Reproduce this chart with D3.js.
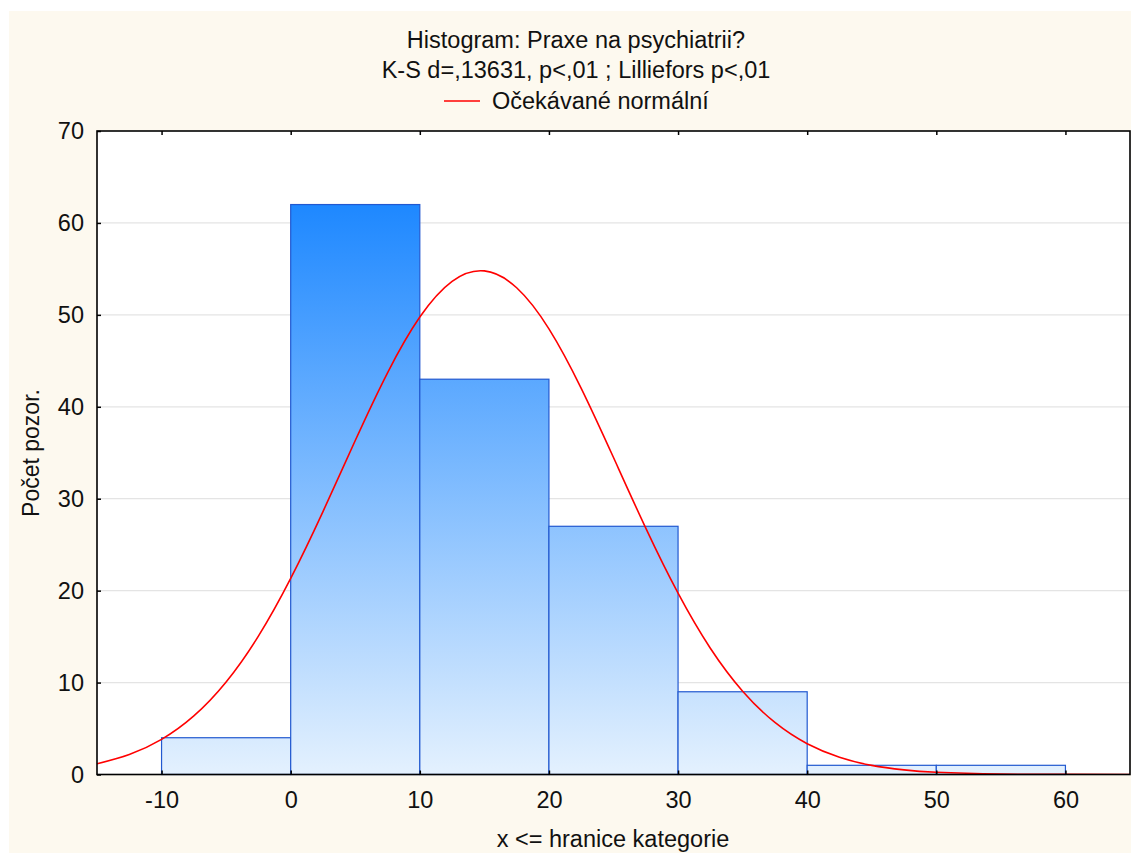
<!DOCTYPE html>
<html>
<head>
<meta charset="utf-8">
<script src="https://cdn.jsdelivr.net/npm/d3@7"></script>
<style>
html,body{margin:0;padding:0;background:#fff;}
svg{display:block;font-family:"Liberation Sans",Arial,sans-serif;}
</style>
</head>
<body>
<svg id="chart" width="1131" height="856"></svg>
<script>
// ---- data ----
const binStarts = [-10, 0, 10, 20, 30, 40, 50];
const binEnds   = [0, 10, 20, 30, 40, 50, 60];
const counts    = [4, 62, 43, 27, 9, 1, 1];
const curveX = [-15,-12.5,-10,-7.5,-5,-2.5,0,2.5,5,7.5,10,12.5,15,17.5,20,22.5,25,27.5,30,32.5,35,37.5,40,42.5,45,47.5,50,55,60,65];
const curveY = [1.16,2.17,3.82,6.37,10.06,15.05,21.33,28.6,36.33,43.7,49.76,53.65,54.78,52.95,48.48,42.01,34.48,26.8,19.72,13.73,9.06,5.66,3.35,1.88,0.99,0.5,0.24,0.05,0.01,0];
const xTicks = [-10, 0, 10, 20, 30, 40, 50, 60];
const yTicks = [0, 10, 20, 30, 40, 50, 60, 70];
const titleLines = ["Histogram: Praxe na psychiatrii?", "K-S d=,13631, p<,01 ; Lilliefors p<,01"];
const legendLabel = "Očekávané normální";
const xTitle = "x <= hranice kategorie";
const yTitle = "Počet pozor.";

// ---- layout ----
const svg = d3.select("#chart");
const L = 97, R = 1130, T = 131, B = 774.5;
const x = d3.scaleLinear().domain([-15, 65]).range([L, R]);
const y = d3.scaleLinear().domain([0, 70]).range([B, T]);
const FS = 23.5;

svg.append("rect").attr("x", 9).attr("y", 11).attr("width", 1122).attr("height", 842).attr("fill", "#fdf9ef");
svg.append("rect").attr("x", L).attr("y", T).attr("width", R - L).attr("height", B - T).attr("fill", "#fff");

const defs = svg.append("defs");
const grad = defs.append("linearGradient").attr("id", "barGrad")
  .attr("gradientUnits", "userSpaceOnUse")
  .attr("x1", 0).attr("x2", 0).attr("y1", y(62)).attr("y2", y(0));
grad.append("stop").attr("offset", 0).attr("stop-color", "#1e88ff");
grad.append("stop").attr("offset", 1).attr("stop-color", "#e4f1fe");
defs.append("clipPath").attr("id", "plotClip").append("rect")
  .attr("x", L).attr("y", T).attr("width", R - L).attr("height", B - T);

// gridlines
svg.append("g").selectAll("line").data(yTicks.filter(d => d > 0 && d < 70)).join("line")
  .attr("x1", L).attr("x2", R).attr("y1", d => y(d)).attr("y2", d => y(d))
  .attr("stroke", "#e4e4e4").attr("stroke-width", 1.2);

// bars
svg.append("g").selectAll("rect").data(counts).join("rect")
  .attr("x", (d, i) => x(binStarts[i]))
  .attr("width", (d, i) => x(binEnds[i]) - x(binStarts[i]))
  .attr("y", d => y(d))
  .attr("height", d => y(0) - y(d))
  .attr("fill", "url(#barGrad)")
  .attr("stroke", "#2259d0").attr("stroke-width", 1.2);

// normal curve
const line = d3.line().x((d, i) => x(curveX[i])).y(d => y(d)).curve(d3.curveNatural);
svg.append("path").datum(curveY).attr("d", line)
  .attr("clip-path", "url(#plotClip)")
  .attr("fill", "none").attr("stroke", "#ff0000").attr("stroke-width", 1.6);

// axes frame
const frame = svg.append("g");
frame.append("rect").attr("x", L).attr("y", T).attr("width", R - L).attr("height", B - T)
  .attr("fill", "none").attr("stroke", "#000").attr("stroke-width", 1.6);

const fmt = d => String(d);
const xAxisB = d3.axisBottom(x).tickValues(xTicks).tickSizeInner(-4).tickSizeOuter(0).tickFormat(fmt);
const gxb = svg.append("g").attr("transform", `translate(0,${B})`).call(xAxisB);
gxb.select(".domain").remove();
gxb.selectAll(".tick line").attr("stroke", "#000").attr("stroke-width", 1.5);
gxb.selectAll(".tick text").attr("font-size", FS).attr("fill", "#111").attr("font-family", "Liberation Sans, Arial, sans-serif").attr("dy", "0.71em").attr("y", 17);

const xAxisT = d3.axisTop(x).tickValues(xTicks).tickSizeInner(-4).tickSizeOuter(0).tickFormat("");
const gxt = svg.append("g").attr("transform", `translate(0,${T})`).call(xAxisT);
gxt.select(".domain").remove();
gxt.selectAll(".tick line").attr("stroke", "#000").attr("stroke-width", 1.5);

const yAxisL = d3.axisLeft(y).tickValues(yTicks).tickSizeInner(-4).tickSizeOuter(0).tickPadding(13).tickFormat(fmt);
const gyl = svg.append("g").attr("transform", `translate(${L},0)`).call(yAxisL);
gyl.select(".domain").remove();
gyl.selectAll(".tick line").attr("stroke", "#000").attr("stroke-width", 1.5);
gyl.selectAll(".tick text").attr("font-size", FS).attr("fill", "#111").attr("font-family", "Liberation Sans, Arial, sans-serif");

// titles
svg.append("g").selectAll("text").data(titleLines).join("text")
  .attr("x", 576).attr("y", (d, i) => 48 + i * 30)
  .attr("text-anchor", "middle").attr("font-size", 23.5).attr("fill", "#111")
  .text(d => d);

// legend
const leg = svg.append("g");
leg.append("line").attr("x1", 444).attr("x2", 480).attr("y1", 101).attr("y2", 101)
  .attr("stroke", "#ff0000").attr("stroke-width", 1.6);
leg.append("text").attr("x", 492).attr("y", 109).attr("font-size", 23.5).attr("fill", "#111").text(legendLabel);

// axis titles
svg.append("text").attr("x", 613).attr("y", 847).attr("text-anchor", "middle")
  .attr("font-size", 23.5).attr("fill", "#111").text(xTitle);
svg.append("text").attr("transform", "translate(39,453) rotate(-90)").attr("text-anchor", "middle")
  .attr("font-size", 23).attr("fill", "#111").text(yTitle);
</script>
</body>
</html>
